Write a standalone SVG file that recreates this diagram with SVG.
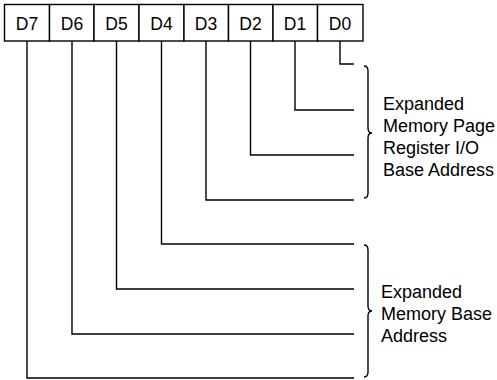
<svg xmlns="http://www.w3.org/2000/svg" width="497" height="380" viewBox="0 0 497 380">
<style>
.box{fill:#fff;stroke:#000;stroke-width:1.4}
.lbl{font-family:"Liberation Sans",Arial,sans-serif;font-size:17.5px;fill:#000;text-anchor:middle}
.txt{font-family:"Liberation Sans",Arial,sans-serif;font-size:18px;fill:#000}
.ln{fill:none;stroke:#000;stroke-width:1.4}
</style>
<rect width="497" height="380" fill="#fff"/>
<g id="D7"><rect class="box" x="4.5" y="4.5" width="45" height="36.5"/><text class="lbl" x="27" y="30">D7</text></g>
<g id="D6"><rect class="box" x="49.5" y="4.5" width="44.5" height="36.5"/><text class="lbl" x="72" y="30">D6</text></g>
<g id="D5"><rect class="box" x="94" y="4.5" width="45" height="36.5"/><text class="lbl" x="116.5" y="30">D5</text></g>
<g id="D4"><rect class="box" x="139" y="4.5" width="45" height="36.5"/><text class="lbl" x="161.5" y="30">D4</text></g>
<g id="D3"><rect class="box" x="184" y="4.5" width="44.5" height="36.5"/><text class="lbl" x="206" y="30">D3</text></g>
<g id="D2"><rect class="box" x="228.5" y="4.5" width="44.5" height="36.5"/><text class="lbl" x="250.5" y="30">D2</text></g>
<g id="D1"><rect class="box" x="273" y="4.5" width="44.5" height="36.5"/><text class="lbl" x="295" y="30">D1</text></g>
<g id="D0"><rect class="box" x="317.5" y="4.5" width="45.5" height="36.5"/><text class="lbl" x="340" y="30">D0</text></g>
<g id="connectors">
<path class="ln" d="M340,41 V64 H354"/>
<path class="ln" d="M295,41 V110 H354"/>
<path class="ln" d="M250.5,41 V155 H354"/>
<path class="ln" d="M206,41 V200 H354"/>
<path class="ln" d="M161.5,41 V244 H354"/>
<path class="ln" d="M116.5,41 V289 H354"/>
<path class="ln" d="M72,41 V334 H354"/>
<path class="ln" d="M27,41 V378 H354"/>
</g>
<g id="brace-io">
<path class="ln" d="M364,66 Q368,66 368,71 V128 Q368,133 372,133 Q368,133 368,138 V193 Q368,198 364,198"/>
<text class="txt" x="383" y="110">Expanded</text>
<text class="txt" x="383" y="132">Memory Page</text>
<text class="txt" x="383" y="154">Register I/O</text>
<text class="txt" x="383" y="176">Base Address</text>
</g>
<g id="brace-base">
<path class="ln" d="M364,245 Q368,245 368,250 V306 Q368,311 372,311 Q368,311 368,316 V372 Q368,377 364,377"/>
<text class="txt" x="381" y="298">Expanded</text>
<text class="txt" x="381" y="320">Memory Base</text>
<text class="txt" x="381" y="342">Address</text>
</g>
</svg>
